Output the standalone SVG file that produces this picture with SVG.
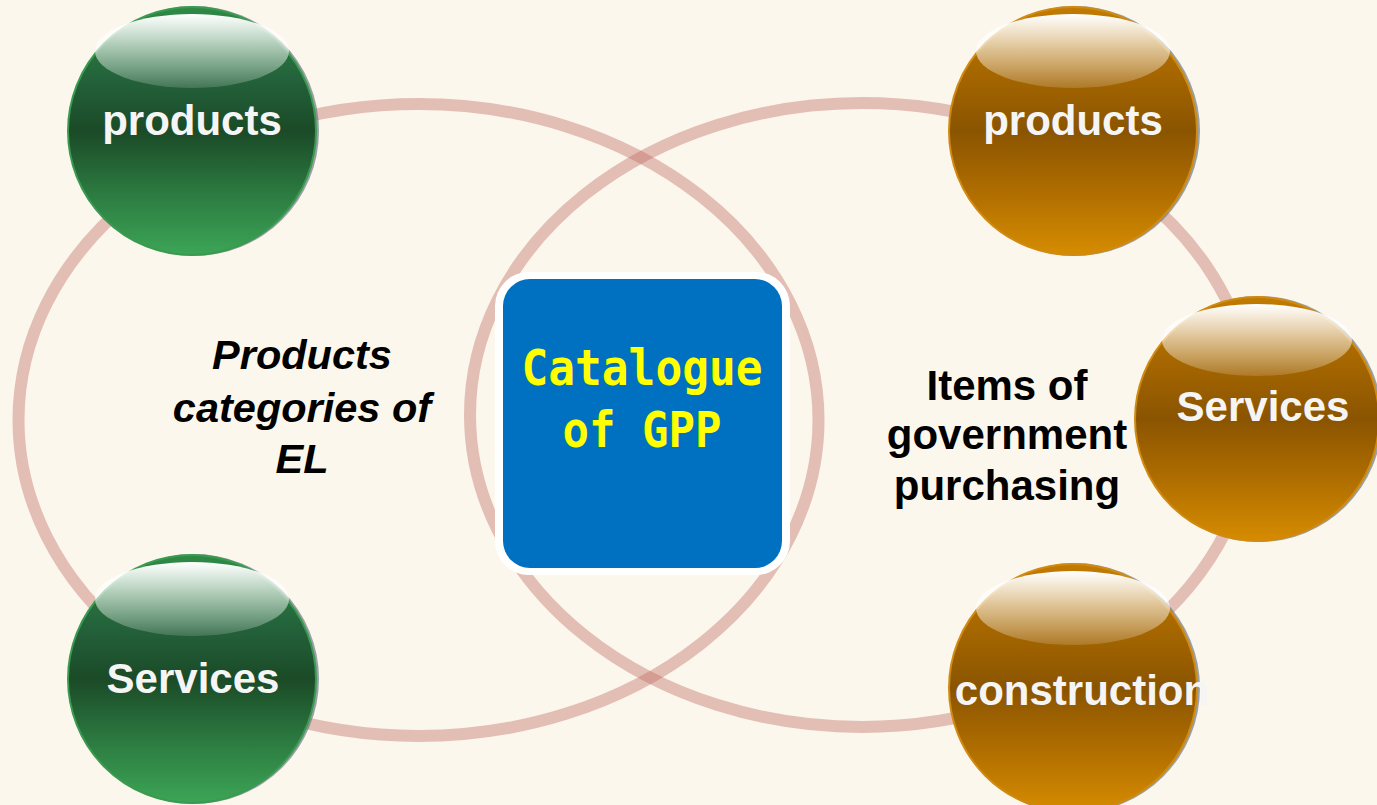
<svg xmlns="http://www.w3.org/2000/svg" width="1377" height="805" viewBox="0 0 1377 805">
<defs>
<linearGradient id="gBody" x1="0" y1="0" x2="0" y2="1">
<stop offset="0" stop-color="#2f8a45"/>
<stop offset="0.3" stop-color="#23613a"/>
<stop offset="0.5" stop-color="#1b4a27"/>
<stop offset="0.75" stop-color="#2c7a40"/>
<stop offset="1" stop-color="#3ca556"/>
</linearGradient>
<linearGradient id="oBody" x1="0" y1="0" x2="0" y2="1">
<stop offset="0" stop-color="#c27b00"/>
<stop offset="0.3" stop-color="#a26400"/>
<stop offset="0.5" stop-color="#8a5400"/>
<stop offset="0.75" stop-color="#b06e00"/>
<stop offset="1" stop-color="#d68c00"/>
</linearGradient>
<linearGradient id="gloss" x1="0" y1="0" x2="0" y2="1">
<stop offset="0" stop-color="#ffffff" stop-opacity="1"/>
<stop offset="0.45" stop-color="#ffffff" stop-opacity="0.6"/>
<stop offset="1" stop-color="#ffffff" stop-opacity="0.15"/>
</linearGradient>
</defs>
<style>
.ring{fill:none;stroke:#be695f;stroke-opacity:0.4;stroke-width:12}
.shadow{fill:#6e7a86;opacity:0.7}
.gs{fill:url(#gBody);stroke:#3a9a50;stroke-width:2}
.os{fill:url(#oBody);stroke:#d08a10;stroke-width:2}
.gl{fill:url(#gloss)}
.lbl{font-family:"Liberation Sans",Arial,sans-serif;font-weight:bold;font-size:42px;fill:#f5f5f5;text-anchor:middle}
.blk{font-family:"Liberation Sans",Arial,sans-serif;font-weight:bold;font-size:42px;fill:#000;text-anchor:middle}
.it{font-style:italic;font-size:41.5px}
.mono{font-family:"DejaVu Sans Mono","Liberation Mono",monospace;font-weight:bold;font-size:50px;fill:#ffff00;text-anchor:middle}
</style>
<rect width="1377" height="805" fill="#fcf7ed"/>
<g id="connectors">
<ellipse class="ring" cx="418.5" cy="420" rx="400" ry="316"/>
<ellipse class="ring" cx="862" cy="415" rx="392" ry="312"/>
</g>
<g id="catalogue">
<rect x="495" y="272" width="295" height="303" rx="34" fill="#ffffff"/>
<rect x="503" y="279" width="279" height="289" rx="27" fill="#0070c0"/>
<text class="mono" x="642" y="385" textLength="241" lengthAdjust="spacingAndGlyphs">Catalogue</text>
<text class="mono" x="642" y="447" textLength="159" lengthAdjust="spacingAndGlyphs">of GPP</text>
</g>
<g id="el-label">
<text class="blk it" x="302" y="369">Products</text>
<text class="blk it" x="302" y="422">categories of</text>
<text class="blk it" x="302" y="473">EL</text>
</g>
<g id="gp-label">
<text class="blk" x="1007" y="400">Items of</text>
<text class="blk" x="1007" y="449">government</text>
<text class="blk" x="1007" y="500">purchasing</text>
</g>
<g id="green-products">
<circle class="shadow" cx="194" cy="131" r="125"/>
<circle class="gs" cx="192" cy="131" r="124"/>
<ellipse class="gl" cx="192" cy="51" rx="97" ry="37"/>
<text class="lbl" x="192" y="135">products</text>
</g>
<g id="green-services">
<circle class="shadow" cx="194" cy="679" r="125"/>
<circle class="gs" cx="192" cy="679" r="124"/>
<ellipse class="gl" cx="192" cy="599" rx="97" ry="37"/>
<text class="lbl" x="193" y="693">Services</text>
</g>
<g id="orange-products">
<circle class="shadow" cx="1075" cy="131" r="125"/>
<circle class="os" cx="1073" cy="131" r="124"/>
<ellipse class="gl" cx="1073" cy="51" rx="97" ry="37"/>
<text class="lbl" x="1073" y="135">products</text>
</g>
<g id="orange-services">
<circle class="shadow" cx="1259" cy="419" r="123"/>
<circle class="os" cx="1257" cy="419" r="122"/>
<ellipse class="gl" cx="1257" cy="340" rx="95" ry="36"/>
<text class="lbl" x="1263" y="421">Services</text>
</g>
<g id="orange-construction">
<circle class="shadow" cx="1075" cy="688" r="125"/>
<circle class="os" cx="1073" cy="688" r="124"/>
<ellipse class="gl" cx="1073" cy="608" rx="97" ry="37"/>
<text class="lbl" x="1082" y="705">construction</text>
</g>
</svg>
